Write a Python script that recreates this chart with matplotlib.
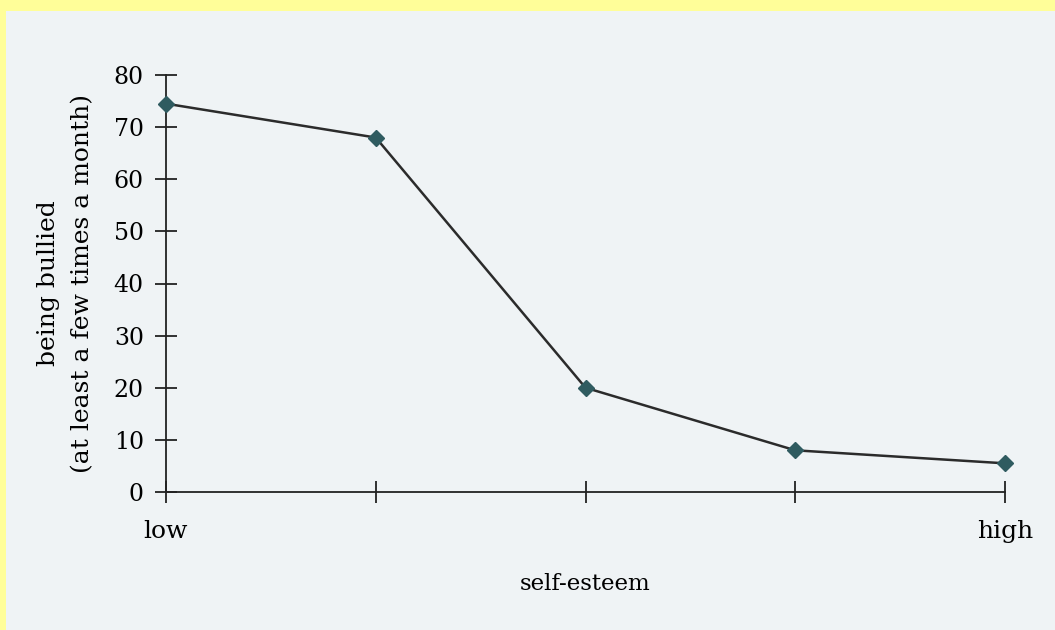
import matplotlib
matplotlib.use("Agg")
import matplotlib.pyplot as plt
from matplotlib.patches import Rectangle

# self-esteem groups (low -> high) and % bullied at least a few times a month
groups = [0, 1, 2, 3, 4]
bullied = [74.5, 68.0, 20.0, 8.0, 5.5]
tick_labels = ["low", "", "", "", "high"]

plt.rcParams['font.family'] = ['DejaVu Serif']

bg = '#eff3f5'
fig = plt.figure(figsize=(10.55, 6.3), dpi=100)
fig.patch.set_facecolor(bg)
# yellow scan border
fig.patches.append(Rectangle((0, 1 - 11/630), 1, 11/630, transform=fig.transFigure,
                             facecolor='#fffe99', edgecolor='none', zorder=0))
fig.patches.append(Rectangle((0, 0), 6/1055, 1, transform=fig.transFigure,
                             facecolor='#fffe99', edgecolor='none', zorder=0))

ax = fig.add_axes([166/1055, 138/630, 839/1055, 417/630])
ax.set_facecolor(bg)
ax.plot(groups, bullied, color='#2b2b2b', lw=1.8, marker='D', ms=8,
        mfc='#2f5b60', mec='#2f5b60', clip_on=False, zorder=3)

ax.set_xlim(0, 4)
ax.set_ylim(0, 80)
ax.set_yticks(range(0, 81, 10))
ax.set_xticks(groups)
ax.set_xticklabels(tick_labels)
for s in ['top', 'right']:
    ax.spines[s].set_visible(False)
for s in ['left', 'bottom']:
    ax.spines[s].set_color('#222222')
    ax.spines[s].set_linewidth(1.3)
ax.tick_params(axis='y', direction='inout', length=16, width=1.3, color='#222222',
               labelsize=17, pad=8)
ax.tick_params(axis='x', direction='inout', length=16, width=1.3, color='#222222',
               labelsize=18, pad=12)
ax.set_xlabel('self-esteem', fontsize=16.5, labelpad=22)
ax.set_ylabel('being bullied\n(at least a few times a month)', fontsize=18,
              labelpad=14, linespacing=1.65)

fig.savefig('out.png', dpi=100, facecolor=bg)
